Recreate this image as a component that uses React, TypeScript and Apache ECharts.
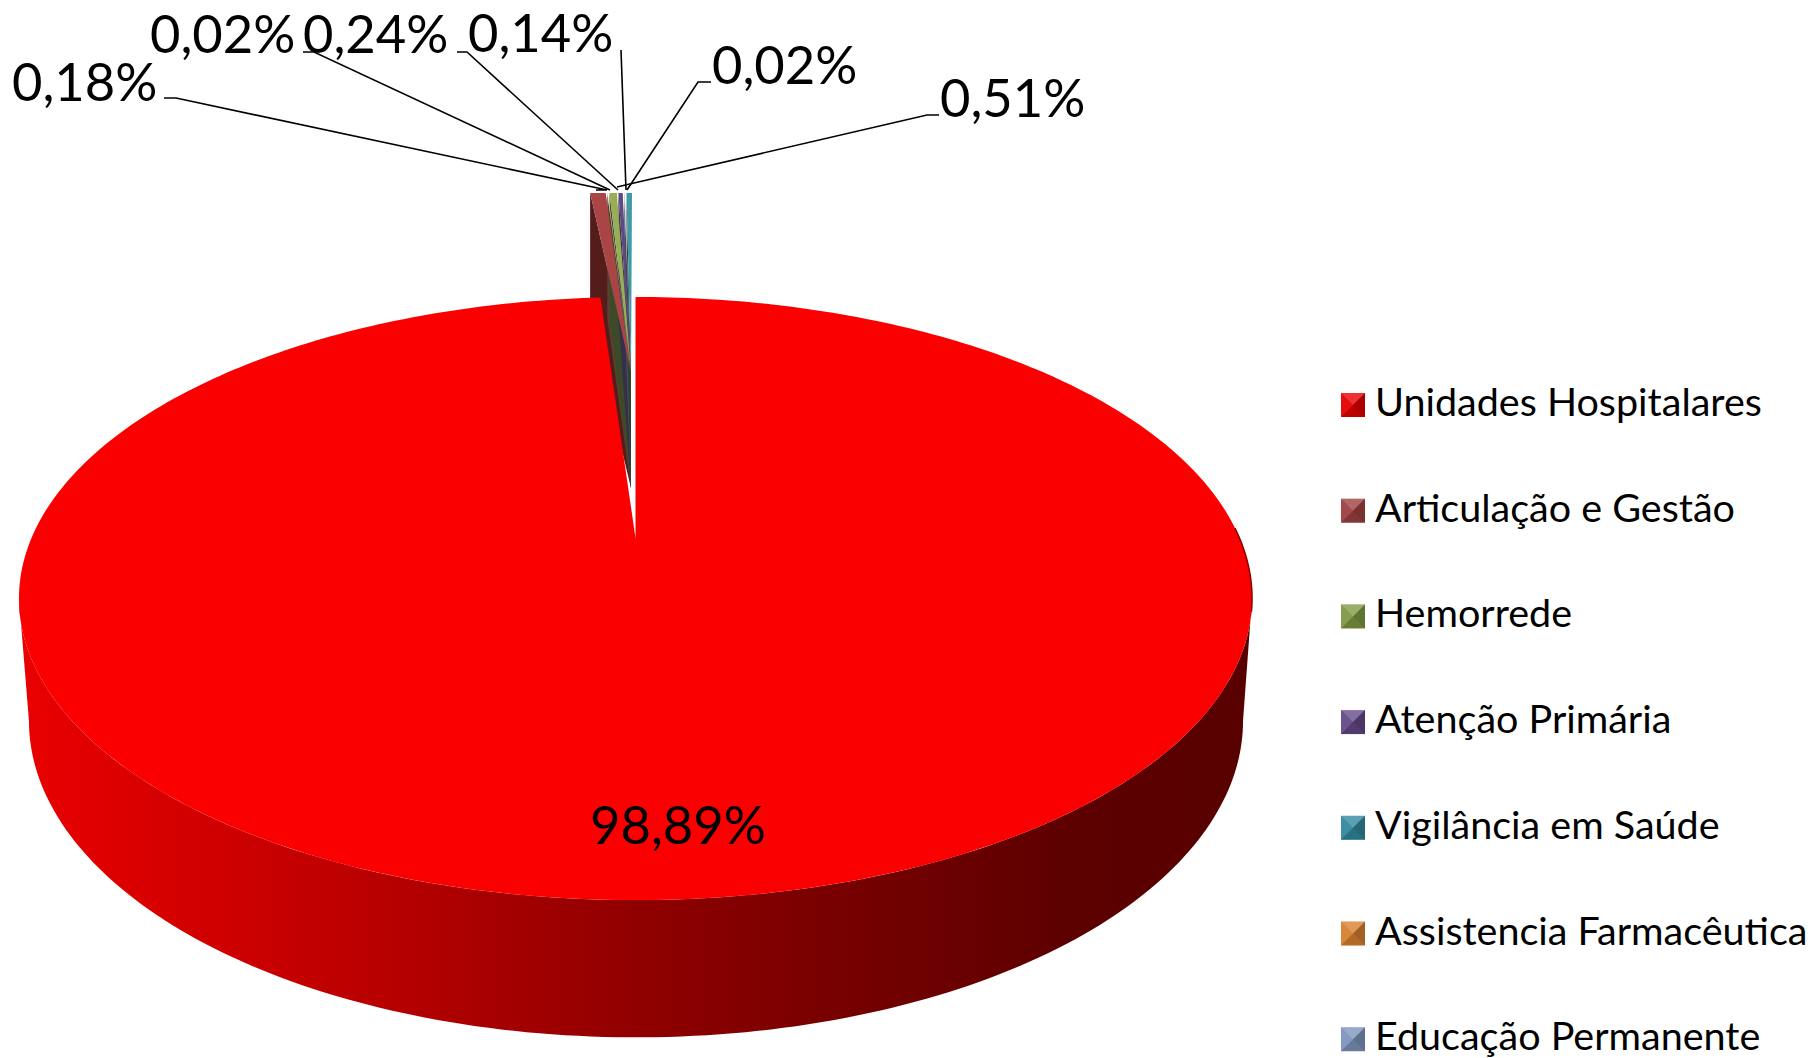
import React, { useEffect, useRef } from "react";
import * as echarts from "echarts";

const categories = ["Unidades Hospitalares", "Articulação e Gestão", "Hemorrede", "Atenção Primária", "Vigilância em Saúde", "Assistencia Farmacêutica", "Educação Permanente"];
const shares = [98.89, 0.51, 0.24, 0.14, 0.18, 0.02, 0.02];
const topColors = ["#fa0000", "#a94545", "#98ad55", "#5d4a80", "#3f9aa6", "#f3ddb8", "#c9c6ea"];
const wallColors = ["#600000", "#551c1c", "#3c4a28", "#34304a", "#2f4234", "#5a4030", "#44485a"];
const legendColors = ["#e60000", "#a04040", "#7f9a45", "#644a88", "#33899f", "#d98030", "#7f95bd"];
// order of the little slices round the rim, clockwise, as indexes into categories
const rimOrder = [1, 5, 2, 3, 6, 4];

const W = 1813, H = 1058;
const P = 0.2007;
const TOP = { cx: 635.5, y0: 538, A: 604, B: 289.4 };
const BOT = { cx: 636, y0: 657, A: 594.7, B: 304 };
const SMALL = { cx: 632, apexX: 631, apexTop: 372, apexBottom: 488, rimY: 193, wallDrop: 125, A: 720, gap: 0.152 };
const LEGEND = { left: 1341, top: 380.5, firstY: 405, step: 105.7, box: 24, rowHeight: 40 };
const LABELS: Record<number, { x: number; y: number; line: number[][] }> = {
  4: { x: 12, y: 80, line: [[164, 98], [176, 98], [607, 190], [596, 190]] },
  5: { x: 150, y: 32, line: [[303, 52], [314, 52], [610, 190]] },
  2: { x: 303, y: 32, line: [[457, 52], [467, 52], [618, 190]] },
  3: { x: 468, y: 31, line: [[621, 50], [626, 190]] },
  6: { x: 712, y: 63, line: [[711, 82], [698, 82], [627, 190]] },
  1: { x: 940, y: 96, line: [[939, 115], [927, 115], [634, 183], [617, 187]] },
};
const FONT = "Lato";
const LABEL_FONT = `52.5px ${FONT}`;
const rad = (d: number) => (d * Math.PI) / 180;

function project(m: { cx: number; y0: number; A: number; B: number }, deg: number) {
  const u = Math.sin(rad(deg)), v = Math.cos(rad(deg));
  const d = 1 + P * v;
  return [m.cx + (m.A * u) / d, m.y0 - (m.B * v) / d];
}
function arc(m: any, a: number, b: number) {
  const pts: number[][] = [];
  const n = Math.max(2, Math.ceil(Math.abs(b - a)));
  for (let i = 0; i <= n; i++) pts.push(project(m, a + ((b - a) * i) / n));
  return pts;
}
const label = (v: number) => v.toFixed(2).replace(".", ",") + "%";

function renderMain(value: number) {
  const end = (value / 100) * 360;
  const ext = (Math.acos(-P) * 180) / Math.PI;
  const sidePts = [...arc(TOP, ext, 360 - ext), ...arc(BOT, 360 - ext, ext)];
  const topPts = [[TOP.cx, TOP.y0], ...arc(TOP, 0, end)];
  const side = new echarts.graphic.LinearGradient(0, 0, 1, 0, [
    { offset: 0, color: "#ea0000" },
    { offset: 0.25, color: "#c00000" },
    { offset: 0.5, color: "#900000" },
    { offset: 0.7, color: "#720000" },
    { offset: 0.86, color: "#5c0000" },
    { offset: 1, color: "#580000" },
  ]);
  return {
    type: "group",
    children: [
      { type: "polygon", z2: 10, shape: { points: sidePts }, style: { fill: side } },
      { type: "polygon", z2: 11, shape: { points: topPts }, style: { fill: topColors[0] } },
      { type: "polyline", z2: 12, shape: { points: arc(TOP, 88, 104) }, style: { stroke: "#8a0000", lineWidth: 1.5, fill: "none" } },
      { type: "text", z2: 20, x: 590, y: 823, style: { text: label(value), font: LABEL_FONT, fill: "#000", textVerticalAlign: "middle" } },
    ],
  };
}

function smallAngles() {
  const total = rimOrder.reduce((s, i) => s + shares[i], 0);
  const span = 4 - SMALL.gap * (rimOrder.length - 1);
  const out: Record<number, [number, number]> = {};
  let a = -4;
  rimOrder.forEach((i) => {
    const w = (shares[i] / total) * span;
    out[i] = [a, a + w];
    a += w + SMALL.gap;
  });
  return out;
}

function renderSmall(idx: number) {
  const [a, b] = smallAngles()[idx];
  const px = (d: number) => SMALL.cx + (SMALL.A * Math.sin(rad(d))) / (1 + P * Math.cos(rad(d)));
  const order = rimOrder.indexOf(idx);
  const L = LABELS[idx];
  return {
    type: "group",
    children: [
      {
        type: "polygon", z2: 1 + order,
        shape: { points: [[px(a), SMALL.rimY], [SMALL.apexX, SMALL.apexTop], [SMALL.apexX, SMALL.apexBottom], [px(a), SMALL.rimY + SMALL.wallDrop]] },
        style: { fill: wallColors[idx] },
      },
      {
        type: "polygon", z2: 8,
        shape: { points: [[px(a), SMALL.rimY], [px(b), SMALL.rimY], [SMALL.apexX, SMALL.apexTop]] },
        style: { fill: topColors[idx] },
      },
      { type: "polyline", z2: 30, shape: { points: L.line }, style: { stroke: "#000", lineWidth: 1.6, fill: "none" } },
      { type: "text", z2: 31, x: L.x, y: L.y, style: { text: label(shares[idx]), font: LABEL_FONT, fill: "#000", textVerticalAlign: "middle" } },
    ],
  };
}

function bevels() {
  const s = LEGEND.box;
  const out: any[] = [];
  categories.forEach((_, i) => {
    const x = LEGEND.left, y = LEGEND.firstY + LEGEND.step * i - s / 2;
    const c = [x + s / 2, y + s / 2];
    const faces: [number[], number[], string][] = [
      [[x, y], [x + s, y], "rgba(255,255,255,0.2)"],
      [[x + s, y], [x + s, y + s], "rgba(0,0,0,0.25)"],
      [[x + s, y + s], [x, y + s], "rgba(0,0,0,0.18)"],
      [[x, y + s], [x, y], "rgba(255,255,255,0.05)"],
    ];
    faces.forEach(([p, q, fill]) => out.push({ type: "polygon", silent: true, z: 200, shape: { points: [p, q, c] }, style: { fill } }));
  });
  return out;
}

export default function App() {
  const ref = useRef<HTMLDivElement>(null);
  useEffect(() => {
    document.body.style.margin = "0";
    const chart = echarts.init(ref.current!, undefined, { renderer: "svg" });
    chart.setOption({
      animation: false,
      backgroundColor: "#fff",
      legend: {
        orient: "vertical",
        left: LEGEND.left,
        top: LEGEND.top,
        height: 1200,
        padding: 0,
        itemWidth: LEGEND.box,
        itemHeight: LEGEND.box,
        itemGap: LEGEND.step - LEGEND.rowHeight,
        icon: "rect",
        formatter: (name: string) => `{t|${name}}`,
        textStyle: {
          color: "#000",
          rich: { t: { fontFamily: FONT, fontSize: 39.5, color: "#000", padding: [0, 0, 9, 5] } },
        },
        data: categories.map((name, i) => ({ name, itemStyle: { color: legendColors[i] } })),
      },
      graphic: bevels(),
      series: categories.map((name, i) => ({
        type: "custom",
        name,
        coordinateSystem: "none",
        silent: true,
        data: [shares[i]],
        itemStyle: { color: legendColors[i] },
        renderItem: (_p: any, api: any) => (i === 0 ? renderMain(api.value(0)) : renderSmall(i)),
      })),
    });
    return () => chart.dispose();
  }, []);
  return <div ref={ref} style={{ position: "fixed", left: 0, top: 0, width: W, height: H }} />;
}
